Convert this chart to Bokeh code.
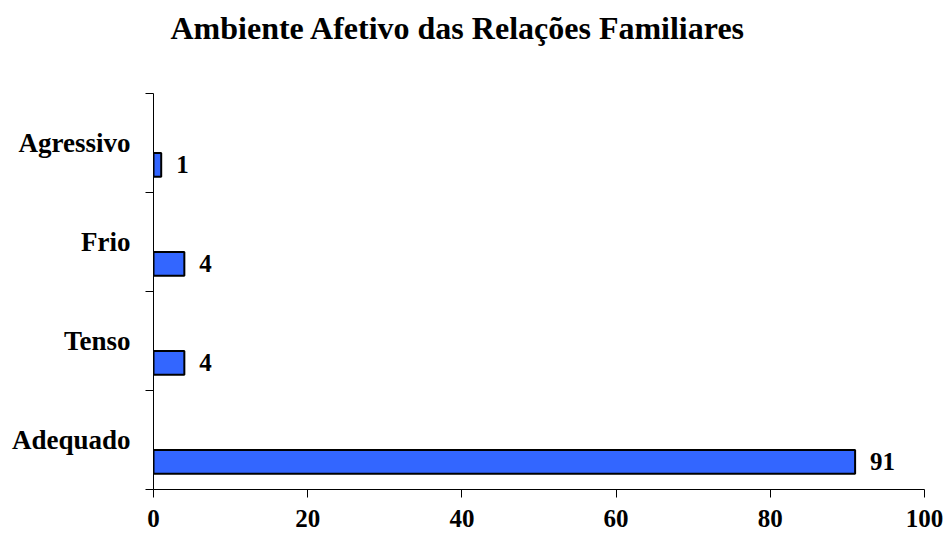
from bokeh.plotting import figure
from bokeh.models import FixedTicker, Range1d, ColumnDataSource, Title
from bokeh.core.properties import value
from bokeh.embed import file_html
from bokeh.resources import INLINE

title_text = "Ambiente Afetivo das Relações Familiares"
categories = ["Adequado", "Tenso", "Frio", "Agressivo"]
values = [91, 4, 4, 1]
x_ticks = [0, 20, 40, 60, 80, 100]

FONT = "Liberation Serif"
BAR_SHIFT = 0.22
BAR_H = 0.24

centers = [i + 0.5 for i in range(len(categories))]
bar_y = [c - BAR_SHIFT for c in centers]
src = ColumnDataSource(dict(y=bar_y, v=values, lab=[str(v) for v in values]))

p = figure(width=946, height=538, x_range=Range1d(0, 100), y_range=Range1d(0, len(categories)),
           output_backend="svg", toolbar_location=None, title=None,
           min_border_left=153, min_border_right=22, min_border_top=93, min_border_bottom=49)
p.outline_line_color = None
p.grid.visible = False
p.background_fill_color = "white"
p.border_fill_color = "white"

p.hbar(y="y", left=0, right="v", height=BAR_H, source=src,
       fill_color="#3366FF", line_color="black", line_width=2)
p.text(x="v", y="y", text="lab", source=src, x_offset=15,
       text_baseline="middle", text_align="left",
       text_font=value(FONT), text_font_style="bold", text_font_size="25px", text_color="black")

# y axis
ya = p.yaxis[0]
ya.ticker = FixedTicker(ticks=centers, minor_ticks=list(range(len(categories) + 1)))
ya.major_label_overrides = {c: name for c, name in zip(centers, categories)}
ya.major_tick_line_color = None
ya.major_tick_out = 0
ya.major_tick_in = 0
ya.minor_tick_out = 8
ya.minor_tick_in = 0
ya.minor_tick_line_color = "black"
ya.axis_line_color = "black"
ya.major_label_standoff = 15
ya.major_label_text_font = FONT
ya.major_label_text_font_style = "bold"
ya.major_label_text_font_size = "27px"
ya.major_label_text_color = "black"

# x axis
xa = p.xaxis[0]
xa.ticker = FixedTicker(ticks=x_ticks)
xa.major_tick_out = 8
xa.major_tick_in = 0
xa.minor_tick_line_color = None
xa.axis_line_color = "black"
xa.major_tick_line_color = "black"
xa.major_label_standoff = 12
xa.major_label_text_font = FONT
xa.major_label_text_font_style = "bold"
xa.major_label_text_font_size = "25px"
xa.major_label_text_color = "black"

# spacer between plot area and title (nearest the frame), then the title itself
spacer = Title(text=" ", text_font=FONT, text_font_size="32px", standoff=10)
p.add_layout(spacer, "above")
main_title = Title(text=title_text, text_font=FONT, text_font_style="bold",
                   text_font_size="32px", text_color="black", align="left",
                   offset=17, standoff=0)
p.add_layout(main_title, "above")

open("out.html", "w").write(file_html(p, INLINE))
